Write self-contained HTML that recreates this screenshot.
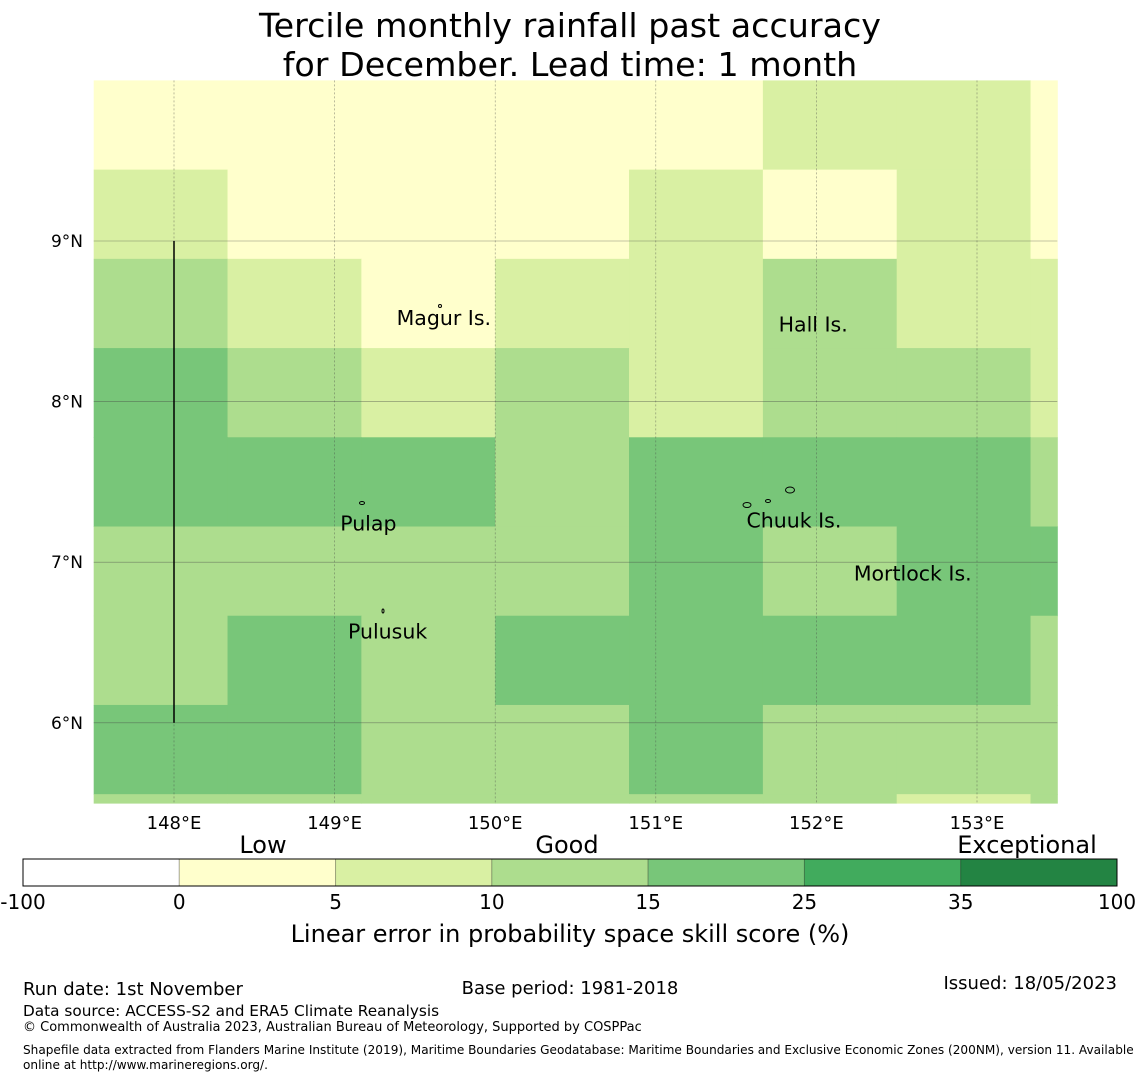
<!DOCTYPE html>
<html><head><meta charset="utf-8">
<style>
body{margin:0;background:#fff;}
svg text{font-family:"DejaVu Sans","Liberation Sans",sans-serif;}
</style></head>
<body>
<svg id="chart" width="1140" height="1080" xmlns="http://www.w3.org/2000/svg">
<text x="570" y="37" font-size="33.3" text-anchor="middle">Tercile monthly rainfall past accuracy</text>
<text x="570" y="76" font-size="33.3" text-anchor="middle">for December. Lead time: 1 month</text>
<g id="map"></g>
<g id="cbar"></g>
<text x="570" y="942" font-size="24" text-anchor="middle">Linear error in probability space skill score (%)</text>
<text x="23" y="995" font-size="18">Run date: 1st November</text>
<text x="570" y="994" font-size="18" text-anchor="middle">Base period: 1981-2018</text>
<text x="1117" y="989" font-size="18" text-anchor="end">Issued: 18/05/2023</text>
<text x="23" y="1016" font-size="15.3">Data source: ACCESS-S2 and ERA5 Climate Reanalysis</text>
<text x="23" y="1031" font-size="13">© Commonwealth of Australia 2023, Australian Bureau of Meteorology, Supported by COSPPac</text>
<text x="23" y="1054" font-size="12.1">Shapefile data extracted from Flanders Marine Institute (2019), Maritime Boundaries Geodatabase: Maritime Boundaries and Exclusive Economic Zones (200NM), version 11. Available</text>
<text x="23" y="1069" font-size="12.1">online at http://www.marineregions.org/.</text>
</svg>
<script>
const lonEdges=[147.5,148.3333,149.1667,150.0,150.8333,151.6667,152.5,153.3333,153.5];
const latEdges=[10.0,9.4444,8.8889,8.3333,7.7778,7.2222,6.6667,6.1111,5.5556,5.5];
const skill=[
[2.5,2.5,2.5,2.5,2.5,7.5,7.5,2.5],
[7.5,2.5,2.5,2.5,7.5,2.5,7.5,2.5],
[12.5,7.5,2.5,7.5,7.5,12.5,7.5,7.5],
[20,12.5,7.5,12.5,7.5,12.5,12.5,7.5],
[20,20,20,12.5,20,20,20,12.5],
[12.5,12.5,12.5,12.5,20,12.5,20,20],
[12.5,20,12.5,20,20,20,20,12.5],
[20,20,12.5,12.5,20,12.5,12.5,12.5],
[12.5,12.5,12.5,12.5,12.5,12.5,7.5,12.5]];
const lonTicks=[148,149,150,151,152,153];
const latTicks=[9,8,7,6];
const cbBounds=[-100,0,5,10,15,25,35,100];
const cbColors=['#ffffff','#ffffcc','#d9f0a3','#addd8e','#78c679','#41ab5d','#238443'];
const places=[["Magur Is.",149.68,8.52],["Hall Is.",151.98,8.48],["Pulap",149.21,7.24],["Chuuk Is.",151.86,7.26],["Mortlock Is.",152.6,6.93],["Pulusuk",149.33,6.57]];

const NS='http://www.w3.org/2000/svg';
const X=lon=>174+(lon-148)*160.6;
const Y=lat=>241+(9-lat)*160.6;
function col(v){for(let i=0;i<cbColors.length;i++){if(v<cbBounds[i+1])return cbColors[i];}return cbColors[cbColors.length-1];}
function mk(tag,attrs,parent){const e=document.createElementNS(NS,tag);for(const k in attrs)e.setAttribute(k,attrs[k]);parent.appendChild(e);return e;}
const map=document.getElementById('map');
for(let r=0;r<skill.length;r++)for(let c=0;c<skill[r].length;c++){
 const x0=X(lonEdges[c]),x1=X(lonEdges[c+1]),y0=Y(latEdges[r]),y1=Y(latEdges[r+1]);
 const e=mk('rect',{x:x0,y:y0,width:x1-x0+0.5,height:y1-y0+0.5,fill:col(skill[r][c])},map);
 
 
}
lonTicks.forEach(l=>{
 const g=mk('line',{x1:X(l),x2:X(l),y1:Y(latEdges[0]),y2:Y(5.5),stroke:'#444','stroke-width':0.6,'stroke-dasharray':'2,2','stroke-opacity':0.6},map);
 
 
 const t=mk('text',{x:X(l),y:829,'font-size':18,'text-anchor':'middle'},map);t.textContent=l+'°E';
 
 
});
latTicks.forEach(l=>{
 const g=mk('line',{x1:X(147.5),x2:X(153.5),y1:Y(l),y2:Y(l),stroke:'#444','stroke-width':0.6,'stroke-opacity':0.6},map);
 
 
 const t=mk('text',{x:83,y:Y(l)+6,'font-size':17,'text-anchor':'end'},map);t.textContent=l+'°N';
 
 
});
const bl=mk('line',{x1:X(148),x2:X(148),y1:Y(9),y2:Y(6),stroke:'#000','stroke-width':1.5},map);


places.forEach(p=>{
 const t=mk('text',{x:X(p[1]),y:Y(p[2])+7,'font-size':20.5,'text-anchor':'middle'},map);t.textContent=p[0];
 
 
});
// small island outlines
[[747,505,8,5],[790,490,9,6],[768,501,5,3],[362,503,5,3],[383,611,2,4],[440,306,3,3]].forEach(a=>{
 const e=mk('ellipse',{cx:a[0],cy:a[1],rx:a[2]/2,ry:a[3]/2,fill:'none',stroke:'#000','stroke-width':1},map);
 
 
});
const cb=document.getElementById('cbar');
const cx0=23,cw=(1117-23)/cbColors.length;
cbColors.forEach((c,i)=>{
 const e=mk('rect',{x:cx0+i*cw,y:859,width:cw,height:27,fill:c,stroke:'rgba(0,0,0,0.25)','stroke-width':1},cb);
 
 
});
const fr=mk('rect',{x:23,y:859,width:1094,height:27,fill:'none',stroke:'#000','stroke-width':1},cb);


cbBounds.forEach((b,i)=>{
 const t=mk('text',{x:cx0+i*cw,y:909,'font-size':20,'text-anchor':'middle'},cb);t.textContent=b;
 
 
});
[["Low",263],["Good",567],["Exceptional",1027]].forEach(a=>{
 const t=mk('text',{x:a[1],y:853,'font-size':24,'text-anchor':'middle'},cb);t.textContent=a[0];
 
 
});
</script>
</body></html>
